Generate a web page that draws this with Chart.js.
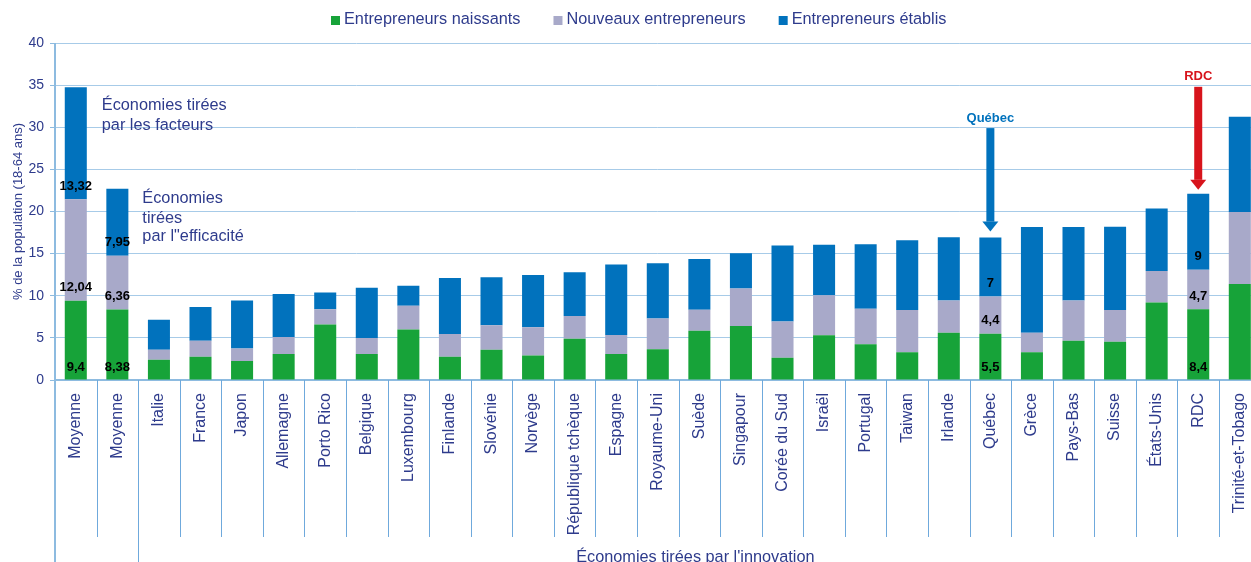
<!DOCTYPE html>
<html lang="fr">
<head>
<meta charset="utf-8">
<title>Entrepreneurs</title>
<script src="https://cdn.jsdelivr.net/npm/chart.js@4.4.1/dist/chart.umd.min.js"></script>
<style>
  html, body { margin: 0; padding: 0; background: #fff; overflow: hidden; }
  canvas { display: block; }
</style>
</head>
<body>
<canvas id="chart" width="1264" height="562"></canvas>
<script>
// Data
const pays = ['Moyenne', 'Moyenne', 'Italie', 'France', 'Japon', 'Allemagne', 'Porto Rico', 'Belgique',
  'Luxembourg', 'Finlande', 'Slovénie', 'Norvège', 'République tchèque', 'Espagne', 'Royaume-Uni',
  'Suède', 'Singapour', 'Corée du Sud', 'Israël', 'Portugal', 'Taiwan', 'Irlande', 'Québec', 'Grèce',
  'Pays-Bas', 'Suisse', 'États-Unis', 'RDC', 'Trinité-et-Tobago'];
const naissants = [9.4, 8.38, 2.4, 2.75, 2.25, 3.1, 6.6, 3.1, 6.0, 2.75, 3.6, 2.9, 4.9, 3.1, 3.65,
  5.85, 6.4, 2.65, 5.3, 4.25, 3.3, 5.6, 5.5, 3.3, 4.65, 4.55, 9.2, 8.4, 11.4];
const nouveaux = [12.04, 6.36, 1.2, 1.9, 1.5, 2.0, 1.8, 1.9, 2.8, 2.7, 2.9, 3.35, 2.7, 2.25, 3.65,
  2.5, 4.45, 4.3, 4.75, 4.2, 5.0, 3.85, 4.4, 2.3, 4.8, 3.75, 3.75, 4.7, 8.55];
const etablis = [13.32, 7.95, 3.55, 4.0, 5.7, 5.1, 2.0, 5.95, 2.4, 6.65, 5.7, 6.2, 5.2, 8.35, 6.55,
  6.0, 4.2, 9.0, 6.0, 7.65, 8.3, 7.5, 7, 12.55, 8.7, 9.9, 7.4, 9, 11.3];
const series = ['Entrepreneurs naissants', 'Nouveaux entrepreneurs', 'Entrepreneurs établis'];
const avecValeurs = [0, 1, 22, 27]; // bars whose segment values are printed

const couleurs = ['#17a339', '#a8a9c9', '#0172bd'];
const navy = '#2e3b8c';
const police = '"Liberation Sans", Arial, sans-serif';

function fleche(ctx, x, yTop, yTip, color) {
  const shaft = 8, head = 16, headH = 10;
  ctx.fillStyle = color;
  ctx.fillRect(x - shaft / 2, yTop, shaft, yTip - headH - yTop);
  ctx.beginPath();
  ctx.moveTo(x - head / 2, yTip - headH);
  ctx.lineTo(x + head / 2, yTip - headH);
  ctx.lineTo(x, yTip);
  ctx.closePath();
  ctx.fill();
}

const decor = {
  id: 'decor',
  afterDraw(chart) {
    const ctx = chart.ctx;
    const ys = chart.scales.y;
    const area = chart.chartArea;
    const H = chart.height;
    ctx.save();

    // category separators below the axis
    ctx.strokeStyle = '#6fa9dc';
    ctx.lineWidth = 1;
    const pas = (area.right - area.left) / pays.length;
    for (let i = 0; i <= pays.length; i++) {
      const x = Math.round(area.left + i * pas) + 0.5;
      const longue = (i === 0 || i === 2);
      ctx.beginPath();
      ctx.moveTo(x, area.bottom);
      ctx.lineTo(x, longue ? H : area.bottom + 157);
      ctx.stroke();
    }
    // y axis line
    ctx.strokeStyle = '#8dbbe0';
    ctx.lineWidth = 2;
    ctx.beginPath();
    ctx.moveTo(area.left, area.top);
    ctx.lineTo(area.left, H);
    ctx.stroke();

    // legend
    ctx.font = '16.3px ' + police;
    ctx.textBaseline = 'middle';
    ctx.textAlign = 'left';
    let lx = 331;
    series.forEach((s, i) => {
      ctx.fillStyle = couleurs[i];
      ctx.fillRect(lx, 16, 9, 9);
      ctx.fillStyle = navy;
      ctx.fillText(s, lx + 13, 20);
      lx += 13 + ctx.measureText(s).width + 33;
    });

    // group annotations
    const m0 = chart.getDatasetMeta(0).data;
    ctx.font = '16.3px ' + police;
    ctx.fillStyle = navy;
    const x0 = m0[0].x + m0[0].width / 2 + 15;
    ctx.fillText('Économies tirées', x0, ys.getPixelForValue(32.6));
    ctx.fillText('par les facteurs', x0, ys.getPixelForValue(30.2));
    const x1 = m0[1].x + m0[1].width / 2 + 14;
    ctx.fillText('Économies', x1, ys.getPixelForValue(21.5));
    ctx.fillText('tirées', x1, ys.getPixelForValue(19.2));
    ctx.fillText('par l"efficacité', x1, ys.getPixelForValue(17.0));
    ctx.textAlign = 'center';
    ctx.textBaseline = 'alphabetic';
    const gauche = area.left + 2 * pas;
    ctx.fillText("Économies tirées par l'innovation", (gauche + area.right) / 2 - 4, 562);

    // segment values
    ctx.textBaseline = 'middle';
    ctx.font = 'bold 13px ' + police;
    ctx.fillStyle = '#000';
    const vals = [naissants, nouveaux, etablis];
    avecValeurs.forEach(i => {
      let base = 0;
      vals.forEach(v => {
        const y = ys.getPixelForValue(base) - 13;
        ctx.fillText(String(v[i]).replace('.', ','), m0[i].x, y);
        base += v[i];
      });
    });

    // arrows
    const total = i => naissants[i] + nouveaux[i] + etablis[i];
    const iQ = pays.indexOf('Québec'), iR = pays.indexOf('RDC');
    const yQ = ys.getPixelForValue(29.9), yR = ys.getPixelForValue(34.8);
    fleche(ctx, m0[iQ].x, yQ, ys.getPixelForValue(total(iQ)) - 6, '#0172bd');
    fleche(ctx, m0[iR].x, yR, ys.getPixelForValue(total(iR)) - 4, '#d7141c');
    ctx.font = 'bold 13px ' + police;
    ctx.fillStyle = '#0172bd';
    ctx.fillText('Québec', m0[iQ].x, yQ - 10);
    ctx.fillStyle = '#d7141c';
    ctx.fillText('RDC', m0[iR].x, yR - 10);
    ctx.restore();
  }
};

new Chart(document.getElementById('chart'), {
  type: 'bar',
  data: {
    labels: pays,
    datasets: [naissants, nouveaux, etablis].map((d, i) => ({
      label: series[i],
      data: d,
      backgroundColor: couleurs[i],
      borderWidth: 0,
      barPercentage: 0.53,
      categoryPercentage: 1
    }))
  },
  options: {
    responsive: false,
    animation: false,
    layout: { padding: { top: 43, right: 0, left: 0, bottom: 0 } },
    plugins: { legend: { display: false }, tooltip: { enabled: false } },
    scales: {
      x: {
        stacked: true,
        grid: { display: false },
        border: { display: true, color: '#8dbbe0', width: 2 },
        ticks: { color: navy, font: { family: police, size: 16 }, minRotation: 90, maxRotation: 90, autoSkip: false, padding: 5 },
        afterFit: s => { s.height = 182; }
      },
      y: {
        stacked: true,
        min: 0,
        max: 40,
        ticks: { stepSize: 5, color: navy, font: { family: police, size: 14 }, padding: 6 },
        grid: { color: '#a7cbe8', drawTicks: true, tickLength: 5, tickColor: '#8dbbe0' },
        border: { display: false },
        title: { display: true, text: '% de la population (18-64 ans)', color: navy, font: { family: police, size: 13 }, padding: { top: 11, bottom: 2 } },
        afterFit: s => { s.width = 55; }
      }
    }
  },
  plugins: [decor]
});
</script>
</body>
</html>
